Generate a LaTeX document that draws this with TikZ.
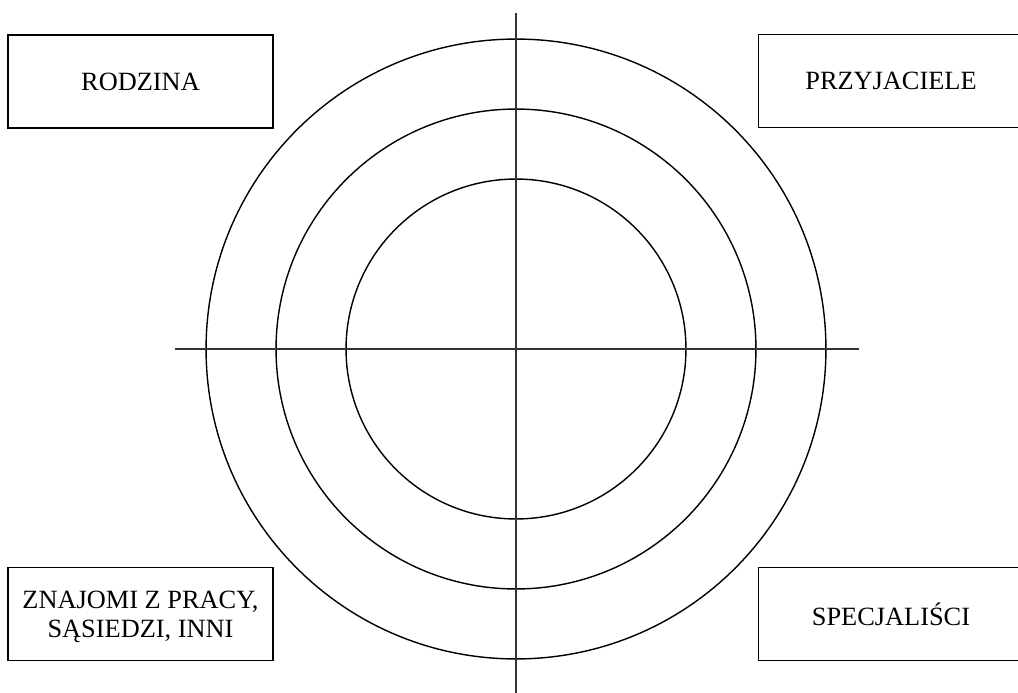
\documentclass[tikz,border=0pt]{standalone}
\usepackage{fontspec}
\setmainfont{Liberation Serif}

\begin{document}
\begin{tikzpicture}[
    x=0.02cm, y=-0.02cm,
    font=\rmfamily\fontsize{15}{16.3}\selectfont,
    ring/.style={line width=0.8pt},
    axis/.style={line width=0.8pt, black!80},
    groupbox/.style={draw, line width=0.8pt, minimum width=5.3cm, minimum height=1.86cm, align=center, inner sep=0pt}
]

\clip (0, 0) rectangle (1018, 693);

% ==========================================
% 1. CIRCLES
% ==========================================

\coordinate (c) at (516, 349);

\draw[ring] (c) circle (6.2cm);
\draw[ring] (c) circle (4.8cm);
\draw[ring] (c) circle (3.4cm);

% ==========================================
% 2. AXES
% ==========================================

\coordinate (top) at (516, 13);
\coordinate (bottom) at (516, 693);
\coordinate (left) at (175, 349);
\coordinate (right) at (859, 349);

\draw[axis] (top) -- (bottom);
\draw[axis] (left) -- (right);

% ==========================================
% 3. BOXES & LABELS
% ==========================================

\node[groupbox] (rodzina) at (140.5, 81.5) {\raisebox{-0.25ex}{RODZINA}};
\node[groupbox] (przyjaciele) at (891, 81) {\raisebox{-0.25ex}{PRZYJACIELE}};
\node[groupbox] (znajomi) at (140.5, 614) {};
\node[align=center] (znajomitext) at ([yshift=-0.06cm]znajomi.center) {ZNAJOMI Z PRACY,\\SĄSIEDZI, INNI};
\node[groupbox] (specjalisci) at (891, 614) {\raisebox{-0.9ex}{SPECJALIŚCI}};

\end{tikzpicture}
\end{document}
